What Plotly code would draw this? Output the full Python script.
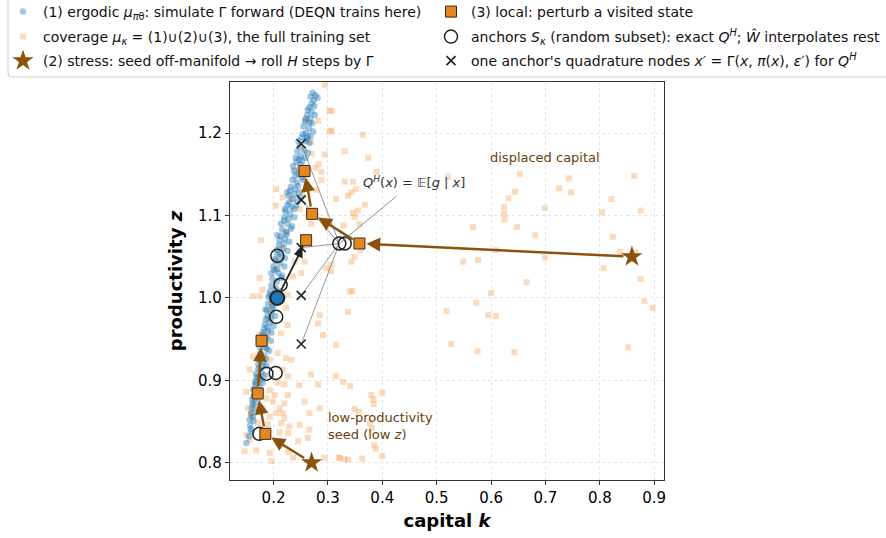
import plotly.graph_objects as go

# ---------------- data ----------------
# (1) ergodic set (simulated forward)
erg_k = [0.272,0.277,0.281,0.270,0.266,0.275,
         0.262,0.268,0.271,0.258,0.265,0.273,0.260,0.255,
         0.252,0.259,0.266,0.248,0.256,0.263,0.250,0.244,
         0.242,0.249,0.256,0.238,0.246,0.252,0.235,0.243,0.260,
         0.232,0.240,0.247,0.228,0.236,0.244,0.226,0.233,0.250,
         0.222,0.230,0.238,0.219,0.226,0.234,0.216,0.224,
         0.213,0.221,0.229,0.210,0.218,0.226,0.207,0.215,
         0.204,0.212,0.220,0.201,0.209,0.216,0.198,0.206,
         0.196,0.204,0.212,0.193,0.200,0.208,0.190,0.198,
         0.188,0.196,0.203,0.186,0.193,0.200,0.183,0.190,
         0.181,0.188,0.195,0.178,0.185,0.192,0.176,0.183,
         0.174,0.181,0.187,0.172,0.178,0.184,0.169,0.176,
         0.167,0.174,0.170,0.164,0.172,0.162,
         0.165,0.159,0.163,0.157,0.160,0.155,0.150,
         0.268,0.274,0.263,0.270,0.276,0.259,0.266,0.263,
         0.254,0.261,0.268,0.246,0.247,0.253,0.259,0.241,
         0.240,0.248,0.255,0.236,0.230,0.238,0.245,0.225,
         0.229,0.238,0.242,0.221,0.220,0.228,0.232,0.214,
         0.211,0.219,0.224,0.207,0.206,0.212,0.221,0.203,
         0.200,0.207,0.214,0.196,0.194,0.202,0.197,0.191,
         0.189,0.195,0.185,0.199,0.184,0.189,0.196,0.180,
         0.179,0.184,0.188,0.175,0.175,0.180,0.172,0.186,
         0.168,0.173,0.180,0.166,0.163,0.168,0.161,0.166,
         0.160,0.162,0.156,0.158]
erg_z = [1.249,1.246,1.243,1.236,1.231,1.233,
         1.222,1.218,1.212,1.214,1.206,1.202,1.200,1.208,
         1.195,1.190,1.188,1.184,1.179,1.176,1.172,1.178,
         1.165,1.162,1.158,1.154,1.150,1.146,1.143,1.140,1.152,
         1.135,1.132,1.128,1.124,1.120,1.117,1.113,1.110,1.122,
         1.105,1.102,1.098,1.094,1.090,1.087,1.083,1.080,
         1.075,1.072,1.068,1.064,1.060,1.057,1.053,1.050,
         1.045,1.042,1.038,1.034,1.030,1.027,1.023,1.020,
         1.015,1.012,1.008,1.004,1.000,0.996,0.993,0.990,
         0.985,0.982,0.978,0.974,0.970,0.966,0.963,0.960,
         0.955,0.952,0.948,0.944,0.940,0.936,0.933,0.930,
         0.925,0.922,0.918,0.914,0.910,0.906,0.903,0.900,
         0.895,0.892,0.886,0.882,0.878,0.872,
         0.865,0.860,0.851,0.845,0.838,0.832,0.824,
         1.244,1.240,1.228,1.226,1.222,1.217,1.213,1.196,
         1.199,1.193,1.196,1.190,1.168,1.166,1.170,1.170,
         1.148,1.156,1.143,1.160,1.130,1.126,1.136,1.128,
         1.116,1.108,1.112,1.108,1.098,1.096,1.084,1.090,
         1.070,1.066,1.077,1.076,1.058,1.054,1.048,1.047,
         1.038,1.035,1.024,1.030,1.008,1.006,0.997,1.001,
         0.978,0.975,0.986,0.989,0.968,0.964,0.958,0.958,
         0.948,0.944,0.938,0.940,0.930,0.917,0.920,0.926,
         0.908,0.904,0.897,0.898,0.889,0.884,0.877,0.872,
         0.866,0.856,0.852,0.841]

# coverage set mu_kappa
cov_k = [0.307,0.307,0.364,0.331,0.374,0.389,0.331,0.346,0.352,0.343,0.337,0.315,0.368,0.355,
         0.346,0.349,0.358,0.329,0.521,0.567,0.549,0.576,0.343,0.349,0.360,0.306,0.345,0.600,
         0.573,0.518,0.595,0.609,0.315,0.527,0.575,0.328,0.341,0.380,0.400,0.384,0.384,0.349,
         0.357,0.377,0.381,0.385,0.388,0.320,0.331,0.363,0.400,
         0.653,0.743,0.644,0.747,0.725,0.632,0.624,0.624,0.625,0.699,0.821,0.863,0.875,0.804,
         0.648,0.681,0.824,0.837,0.866,0.609,0.699,0.807,0.875,0.665,0.882,0.897,0.643,0.852,
         0.294,0.303,0.304,0.294,0.283,0.288,0.277,0.205,0.217,0.204,0.288,0.279,0.260,0.282,
         0.269,0.270,0.260,0.253,0.248,
         0.177,0.174,0.180,0.162,0.174,0.226,0.251,0.236,0.257,0.223,0.226,0.285,0.282,0.291,
         0.214,0.269,0.306,0.297,0.340,0.337,0.174,0.239,
         0.162,0.208,0.233,0.223,0.193,0.156,0.217,0.226,0.269,0.208,0.220,0.247,0.282,0.315,
         0.150,0.193,0.202,0.187,0.226,0.199,0.220,0.257,0.285,0.266,0.211,0.153,0.159,0.205,
         0.217,0.193,0.220,0.190,0.214,0.229,0.248,0.211,0.227,0.266,0.150,0.156,0.245,0.263,
         0.147,0.168,0.193,0.227,0.196,0.236,0.294,0.322,0.337,0.187,0.168,0.180,0.180,0.171,
         0.240,0.232,0.222,0.215,0.205,0.196,0.190,0.186,0.180,0.176,0.171,0.168,0.165,0.162,
         0.158,0.166,0.174,0.185,0.195,0.210]
cov_z = [1.227,1.202,1.198,1.178,1.170,1.153,1.141,1.141,1.132,1.128,1.124,1.120,1.113,1.106,
         1.103,1.098,1.090,1.088,1.147,1.086,1.044,1.046,1.044,1.050,1.058,1.032,1.008,1.006,
         0.994,0.984,0.979,0.978,0.943,0.944,0.935,0.898,0.893,0.882,0.885,0.877,0.871,0.865,
         0.862,0.848,0.842,0.821,0.817,0.806,0.804,0.805,0.808,
         1.150,1.145,1.129,1.128,1.133,1.121,1.110,1.102,1.095,1.109,1.120,1.148,1.106,1.104,
         1.086,1.076,1.074,1.056,1.055,1.058,1.049,1.036,1.023,1.019,0.996,0.988,0.934,0.940,
         1.258,1.227,1.203,1.174,1.162,1.153,1.158,1.132,1.122,1.112,1.143,1.131,1.217,1.215,
         1.189,1.175,1.145,1.129,1.108,
         1.070,1.024,1.010,1.002,1.002,1.004,1.030,1.026,1.044,0.988,0.967,0.979,0.969,0.955,
         0.957,1.090,1.040,1.036,1.008,0.983,0.955,1.044,
         0.929,0.933,0.925,0.927,0.925,0.913,0.913,0.905,0.907,0.897,0.895,0.894,0.895,0.905,
         0.886,0.888,0.882,0.878,0.882,0.874,0.872,0.874,0.866,0.860,0.866,0.866,0.858,0.860,
         0.860,0.856,0.854,0.846,0.848,0.844,0.846,0.837,0.836,0.840,0.834,0.828,0.826,0.830,
         0.814,0.815,0.812,0.813,0.802,0.806,0.806,0.806,0.804,0.834,0.899,0.905,0.866,0.848,
         1.155,1.120,1.080,1.060,1.035,0.995,0.975,0.955,0.940,0.925,0.905,0.895,0.880,0.870,
         0.858,0.888,0.915,0.950,0.985,1.045]

# (2) stress trajectories: seed (star) then H steps (squares)
disp_k = [0.859, 0.358, 0.271, 0.257]
disp_z = [1.050, 1.066, 1.102, 1.154]
lowz_k = [0.270, 0.185, 0.171, 0.178]
lowz_z = [0.800, 0.835, 0.884, 0.948]

# (3) local perturbation: visited state -> perturbed state
visited_k, visited_z = 0.207, 1.000
perturbed_k, perturbed_z = 0.260, 1.070

# anchors (random subset)
anc_k = [0.207, 0.213, 0.205, 0.187, 0.204, 0.174, 0.321, 0.331]
anc_z = [1.051, 1.016, 0.977, 0.908, 0.909, 0.835, 1.066, 1.066]

# quadrature nodes of one anchor
quad_anchor_k, quad_anchor_z = 0.321, 1.066
quad_k = [0.251, 0.251, 0.251, 0.251, 0.251]
quad_z = [0.944, 1.003, 1.061, 1.119, 1.187]

x_ticks = [0.2, 0.3, 0.4, 0.5, 0.6, 0.7, 0.8, 0.9]
y_ticks = [0.8, 0.9, 1.0, 1.1, 1.2]

# ---------------- styling / layout ----------------
W, H = 886, 538
PL, PR, PT, PB = 230, 664, 82, 480          # plot box in pixels
BLUE = '#1f77b4'
COVER = 'rgba(244,164,92,0.40)'
BROWN = '#8c510a'
LOCAL = '#e6861f'
DARK = '#222222'
FONT = 'DejaVu Sans'

# legend slots: (legend id, column x px, row centre y px)
COL1, COL2 = 3, 431
ROWS = [12, 37, 61]

fig = go.Figure()

fig.add_trace(go.Scatter(
    x=cov_k, y=cov_z, mode='markers', legend='legend2',
    marker=dict(symbol='square', size=6, color=COVER, line=dict(width=0)),
    name='coverage <i>μ</i><sub><i>κ</i></sub> = (1)∪(2)∪(3), the full training set'))

fig.add_trace(go.Scatter(
    x=erg_k, y=erg_z, mode='markers', legend='legend',
    marker=dict(symbol='circle', size=6.5, color='rgba(31,119,180,0.42)', line=dict(width=0)),
    name='(1) ergodic <i>μ</i><sub><i>π</i>θ</sub>: simulate Γ forward (DEQN trains here)'))

# gray lines from one anchor to its quadrature nodes
gx, gy = [], []
for qk, qz in zip(quad_k, quad_z):
    gx += [quad_anchor_k, qk, None]
    gy += [quad_anchor_z, qz, None]
fig.add_trace(go.Scatter(x=gx, y=gy, mode='lines', showlegend=False, hoverinfo='skip',
                         line=dict(color='rgba(110,110,110,0.8)', width=0.9)))

fig.add_trace(go.Scatter(
    x=quad_k, y=quad_z, mode='markers', legend='legend6',
    marker=dict(symbol='x-thin', size=9, line=dict(width=1.6, color=DARK), color=DARK),
    name="one anchor's quadrature nodes <i>x′</i> = Γ(<i>x</i>, <i>π</i>(<i>x</i>), <i>ε′</i>) for <i>Q</i><sup><i>H</i></sup>"))

fig.add_trace(go.Scatter(
    x=anc_k, y=anc_z, mode='markers', legend='legend5',
    marker=dict(symbol='circle-open', size=13, line=dict(width=1.5, color=DARK), color=DARK),
    name='anchors <i>S</i><sub><i>κ</i></sub> (random subset): exact <i>Q</i><sup><i>H</i></sup>; <i>Ŵ</i> interpolates rest'))

fig.add_trace(go.Scatter(
    x=[visited_k], y=[visited_z], mode='markers', showlegend=False,
    marker=dict(symbol='circle', size=14, color=BLUE, line=dict(width=2, color=DARK))))

fig.add_trace(go.Scatter(
    x=disp_k[1:] + lowz_k[1:] + [perturbed_k], y=disp_z[1:] + lowz_z[1:] + [perturbed_z],
    mode='markers', legend='legend4',
    marker=dict(symbol='square', size=11, color=LOCAL, line=dict(width=1, color='#3a2a1a')),
    name='(3) local: perturb a visited state'))

fig.add_trace(go.Scatter(
    x=[disp_k[0], lowz_k[0]], y=[disp_z[0], lowz_z[0]], mode='markers', legend='legend3',
    marker=dict(symbol='star', size=16, color=BROWN, line=dict(width=0)),
    name='(2) stress: seed off-manifold → roll <i>H</i> steps by Γ'))

annotations = []
for tk, tz in ((disp_k, disp_z), (lowz_k, lowz_z)):
    for i in range(len(tk) - 1):
        annotations.append(dict(
            x=tk[i + 1], y=tz[i + 1], ax=tk[i], ay=tz[i], xref='x', yref='y', axref='x', ayref='y',
            text='', showarrow=True, arrowhead=2, arrowsize=1.15, arrowwidth=2.4, arrowcolor=BROWN,
            standoff=7, startstandoff=7 if i == 0 else 6))
annotations.append(dict(
    x=perturbed_k, y=perturbed_z, ax=visited_k, ay=visited_z, xref='x', yref='y', axref='x', ayref='y',
    text='', showarrow=True, arrowhead=2, arrowsize=1.1, arrowwidth=1.8, arrowcolor=DARK,
    standoff=8, startstandoff=7))
annotations.append(dict(
    x=quad_anchor_k, y=quad_anchor_z, ax=0.429, ay=1.125, xref='x', yref='y', axref='x', ayref='y',
    text='', showarrow=True, arrowhead=0, arrowwidth=0.9, arrowcolor='rgba(110,110,110,0.85)'))
annotations.append(dict(
    x=0.458, y=1.141, xref='x', yref='y', showarrow=False,
    text='<i>Q</i><sup><i>H</i></sup>(<i>x</i>) = 𝔼[<i>g</i> | <i>x</i>]',
    font=dict(family=FONT, size=13, color='#333333')))
annotations.append(dict(
    x=0.70, y=1.170, xref='x', yref='y', showarrow=False, text='displaced capital',
    font=dict(family=FONT, size=13, color='#6b3d0c')))
annotations.append(dict(
    x=0.296, y=0.844, xref='x', yref='y', showarrow=False, xanchor='left', align='left',
    text='low-productivity<br>seed (low <i>z</i>)',
    font=dict(family=FONT, size=13, color='#6b3d0c')))

# legend frame shared by both legend columns
fx0, fx1, fy0, fy1 = 8 / W, 1.01, 1 - 77 / H, 1.01
rx, ry = 4 / W, 4 / H
frame_path = f"M {fx1},{fy0} L {fx0 + rx},{fy0} Q {fx0},{fy0} {fx0},{fy0 + ry} L {fx0},{fy1}"
shapes = [dict(type='path', xref='paper', yref='paper', path=frame_path,
               line=dict(color='#cccccc', width=1))]

def legend_at(col_px, row_px):
    return dict(x=col_px / W, y=1 - row_px / H, xanchor='left', yanchor='middle',
                orientation='v', bgcolor='rgba(0,0,0,0)', borderwidth=0,
                font=dict(family=FONT, size=14, color='#111111'))

axis_common = dict(
    showline=True, linecolor='#333333', linewidth=1.2, mirror=True,
    ticks='outside', ticklen=4, tickcolor='#333333', tickwidth=1,
    showgrid=True, gridcolor='#e4e4e4', griddash='dot', gridwidth=1,
    zeroline=False, automargin=False, tickfont=dict(family=FONT, size=15, color='black'))

fig.update_layout(
    width=W, height=H,
    margin=dict(l=0, r=0, t=0, b=0, autoexpand=False),
    paper_bgcolor='white', plot_bgcolor='white',
    font=dict(family=FONT, size=13, color='black'),
    showlegend=True,
    legend=legend_at(COL1, ROWS[0]),
    legend2=legend_at(COL1, ROWS[1]),
    legend3=legend_at(COL1, ROWS[2]),
    legend4=legend_at(COL2, ROWS[0]),
    legend5=legend_at(COL2, ROWS[1]),
    legend6=legend_at(COL2, ROWS[2]),
    xaxis=dict(domain=[PL / W, PR / W], range=[0.12, 0.918], tickvals=x_ticks, tickformat='.1f',
               title=dict(text='<b>capital <i>k</i></b>', font=dict(family=FONT, size=18), standoff=8),
               **axis_common),
    yaxis=dict(domain=[1 - PB / H, 1 - PT / H], range=[0.779, 1.262], tickvals=y_ticks, tickformat='.1f',
               title=dict(text='<b>productivity <i>z</i></b>', font=dict(family=FONT, size=18), standoff=10),
               **axis_common),
    annotations=annotations,
    shapes=shapes,
)

fig.write_html('out.html')
